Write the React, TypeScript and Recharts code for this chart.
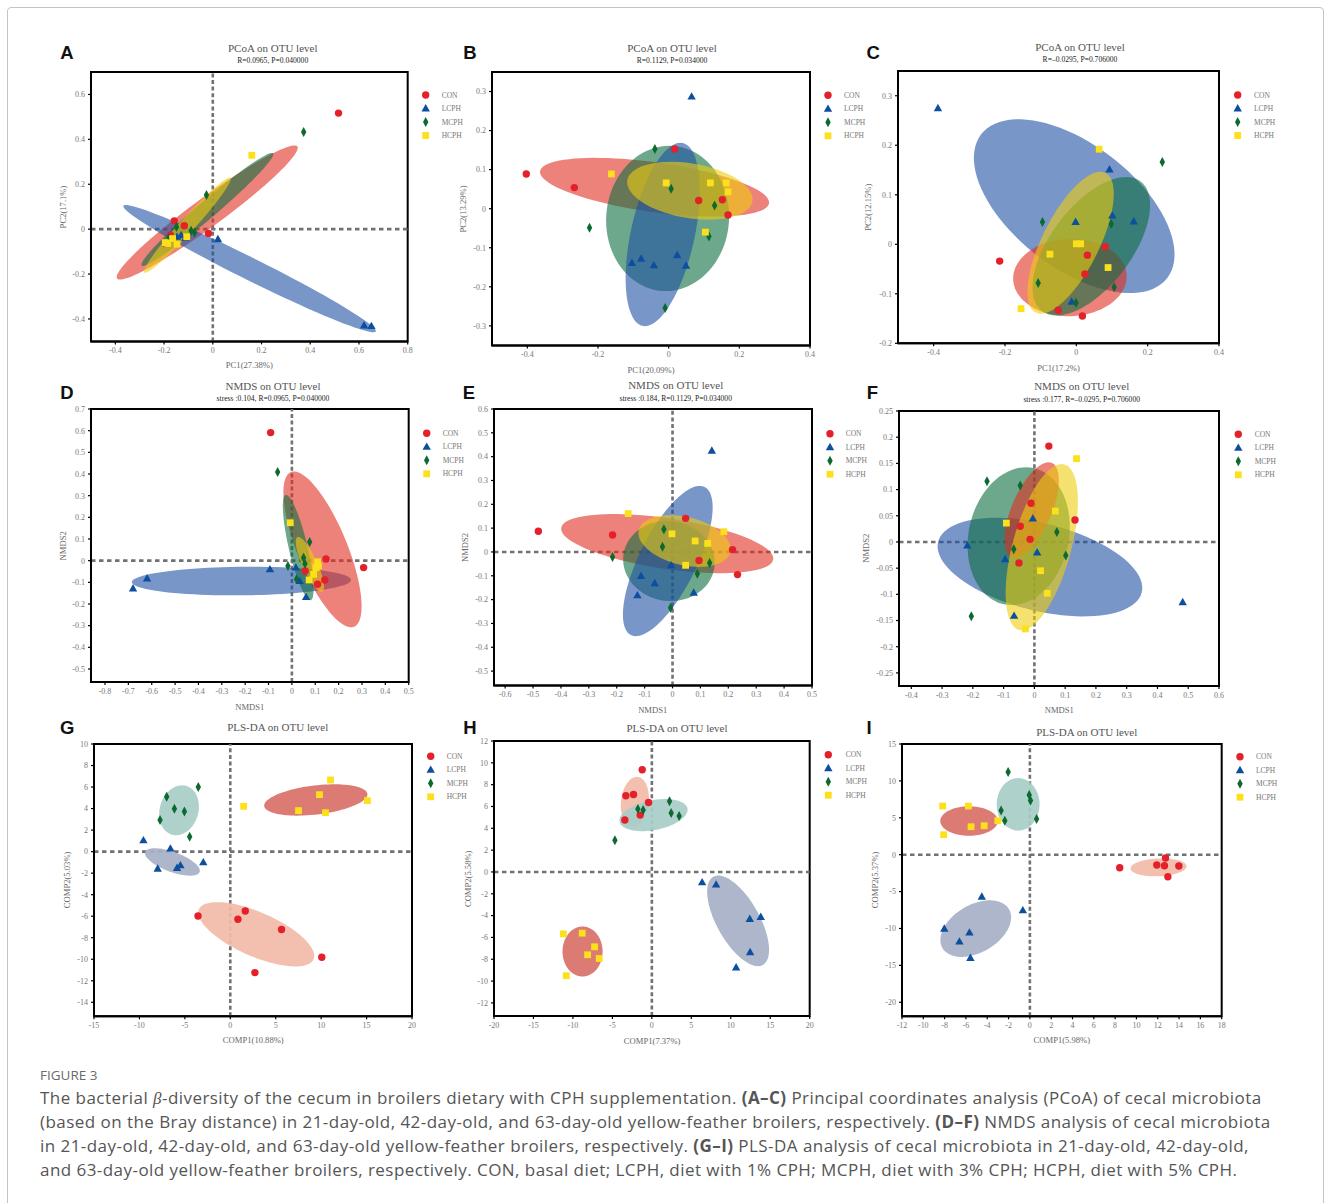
import React from "react";
import { ScatterChart, Scatter, XAxis, YAxis, ReferenceLine, ReferenceArea } from "recharts";

type Pt = [number, number];

const GROUPS = ["CON", "LCPH", "MCPH", "HCPH"];

// ---- A: PCoA day 21 ----
const A_CON: Pt[] = [[0.516, 0.517], [-0.158, 0.037], [-0.117, 0.015], [-0.018, -0.019], [-0.174, -0.027], [-0.195, -0.064]];
const A_LCPH: Pt[] = [[0.621, -0.429], [0.651, -0.432], [0.021, -0.045], [-0.13, -0.027], [-0.112, -0.039], [-0.147, -0.034]];
const A_MCPH: Pt[] = [[0.373, 0.433], [-0.026, 0.152], [-0.149, 0.01], [-0.089, -0.007], [-0.075, -0.015], [-0.18, -0.04]];
const A_HCPH: Pt[] = [[0.16, 0.329], [-0.107, -0.034], [-0.185, -0.064], [-0.165, -0.042], [-0.147, -0.067], [-0.195, -0.06]];
// ellipse = [centre, end of one semi-axis, end of the other]
const A_ELL_CON: Pt[] = [[-0.023, 0.074], [0.347, 0.368], [0.012, 0.021]];
const A_ELL_LCPH: Pt[] = [[0.151, -0.176], [0.669, -0.456], [0.13, -0.22]];
const A_ELL_MCPH: Pt[] = [[-0.022, 0.088], [0.248, 0.338], [0.002, 0.058]];
const A_ELL_HCPH: Pt[] = [[-0.104, 0.018], [0.073, 0.229], [-0.082, -0.004]];

// ---- B: PCoA day 42 ----
const B_CON: Pt[] = [[-0.403, 0.089], [-0.267, 0.054], [0.017, 0.153], [0.085, 0.021], [0.152, 0.023], [0.168, -0.016]];
const B_LCPH: Pt[] = [[0.065, 0.287], [-0.104, -0.139], [-0.078, -0.128], [-0.042, -0.145], [0.024, -0.119], [0.049, -0.146]];
const B_MCPH: Pt[] = [[-0.039, 0.153], [0.007, 0.051], [0.13, 0.008], [-0.224, -0.049], [0.114, -0.071], [-0.01, -0.254]];
const B_HCPH: Pt[] = [[-0.162, 0.089], [-0.007, 0.066], [0.118, 0.066], [0.163, 0.066], [0.168, 0.043], [0.104, -0.06]];
const B_ELL_CON: Pt[] = [[-0.04, 0.055], [0.284, 0.014], [-0.05, -0.008]];
const B_ELL_LCPH: Pt[] = [[-0.017, -0.066], [0.04, 0.168], [0.071, -0.084]];
const B_ELL_MCPH: Pt[] = [[-0.003, -0.025], [0.002, 0.161], [0.171, -0.025]];
const B_ELL_HCPH: Pt[] = [[0.06, 0.046], [0.237, 0.019], [0.047, -0.023]];

// ---- C: PCoA day 63 ----
const C_CON: Pt[] = [[-0.215, -0.034], [0.031, -0.022], [0.081, -0.005], [0.024, -0.06], [-0.051, -0.133], [0.017, -0.145]];
const C_LCPH: Pt[] = [[-0.388, 0.275], [0.093, 0.151], [-0.002, 0.045], [0.101, 0.058], [0.161, 0.046], [-0.013, -0.116]];
const C_MCPH: Pt[] = [[0.241, 0.166], [-0.095, 0.045], [0.098, 0.041], [-0.107, -0.078], [0.106, -0.087], [-0.001, -0.118]];
const C_HCPH: Pt[] = [[0.064, 0.192], [0.0, 0.001], [0.012, 0.001], [-0.074, -0.02], [0.089, -0.047], [-0.155, -0.13]];
const C_ELL_CON: Pt[] = [[-0.018, -0.067], [0.141, -0.061], [-0.01, -0.145]];
const C_ELL_LCPH: Pt[] = [[-0.006, 0.077], [0.255, -0.068], [0.099, 0.176]];
const C_ELL_MCPH: Pt[] = [[0.042, -0.004], [0.18, 0.127], [0.132, -0.053]];
const C_ELL_HCPH: Pt[] = [[-0.016, 0.003], [0.082, 0.144], [0.055, -0.023]];

// ---- D: NMDS day 21 ----
const D_CON: Pt[] = [[-0.091, 0.591], [0.146, 0.008], [0.307, -0.032], [0.057, -0.048], [0.141, -0.089], [0.11, -0.109]];
const D_LCPH: Pt[] = [[-0.68, -0.128], [-0.62, -0.082], [-0.094, -0.04], [0.017, -0.032], [0.033, -0.094], [0.061, -0.168]];
const D_MCPH: Pt[] = [[-0.061, 0.409], [0.076, 0.086], [0.05, 0.014], [0.056, -0.014], [-0.017, -0.025], [0.02, -0.086]];
const D_HCPH: Pt[] = [[-0.007, 0.175], [0.11, -0.005], [0.103, -0.032], [0.093, -0.063], [0.074, -0.089], [0.114, -0.025]];
const D_ELL_CON: Pt[] = [[0.131, 0.052], [-0.004, 0.409], [0.23, 0.095]];
const D_ELL_LCPH: Pt[] = [[-0.216, -0.094], [0.253, -0.089], [-0.216, -0.16]];
const D_ELL_MCPH: Pt[] = [[0.027, 0.06], [-0.026, 0.303], [0.066, 0.069]];
const D_ELL_HCPH: Pt[] = [[0.077, -0.017], [0.024, 0.109], [0.106, -0.003]];

// ---- E: NMDS day 42 ----
const E_CON: Pt[] = [[-0.481, 0.087], [-0.215, 0.071], [0.047, 0.141], [0.215, 0.01], [0.095, -0.036], [0.233, -0.095]];
const E_LCPH: Pt[] = [[0.141, 0.425], [-0.005, -0.056], [-0.113, -0.101], [-0.064, -0.131], [-0.126, -0.182], [0.076, -0.171]];
const E_MCPH: Pt[] = [[-0.215, -0.021], [-0.031, 0.095], [-0.036, 0.022], [0.133, -0.046], [0.089, -0.091], [-0.007, -0.234]];
const E_HCPH: Pt[] = [[-0.159, 0.161], [-0.002, 0.076], [0.184, 0.085], [0.081, 0.046], [0.126, 0.036], [0.047, -0.056]];
const E_ELL_CON: Pt[] = [[-0.019, 0.035], [0.361, -0.031], [-0.032, -0.07]];
const E_ELL_LCPH: Pt[] = [[-0.017, -0.038], [0.115, 0.273], [0.075, -0.091]];
const E_ELL_MCPH: Pt[] = [[-0.013, -0.038], [0.151, -0.045], [-0.013, 0.13]];
const E_ELL_HCPH: Pt[] = [[0.043, 0.046], [0.208, 0.018], [0.034, 0.151]];

// ---- F: NMDS day 63 ----
const F_CON: Pt[] = [[0.047, 0.183], [-0.011, 0.074], [0.132, 0.042], [-0.046, 0.03], [-0.014, 0.005], [-0.05, -0.04]];
const F_LCPH: Pt[] = [[0.482, -0.115], [-0.005, 0.045], [-0.218, -0.007], [-0.095, -0.033], [0.009, -0.02], [-0.066, -0.141]];
const F_MCPH: Pt[] = [[-0.154, 0.116], [-0.046, 0.108], [0.073, 0.019], [-0.067, -0.014], [0.102, -0.026], [-0.205, -0.142]];
const F_HCPH: Pt[] = [[0.137, 0.159], [0.068, 0.059], [-0.091, 0.036], [0.02, -0.055], [0.042, -0.098], [-0.029, -0.166]];
const F_ELL_CON: Pt[] = [[-0.009, 0.061], [0.056, 0.151], [0.051, 0.047]];
const F_ELL_LCPH: Pt[] = [[0.018, -0.048], [0.349, -0.096], [-0.015, -0.129]];
const F_ELL_MCPH: Pt[] = [[-0.051, 0.011], [-0.003, 0.141], [0.108, -0.009]];
const F_ELL_HCPH: Pt[] = [[0.024, -0.01], [0.097, 0.148], [0.116, -0.024]];

// ---- G: PLS-DA day 21 ----
const G_CON: Pt[] = [[-3.55, -5.98], [1.65, -5.51], [0.84, -6.28], [5.64, -7.24], [10.07, -9.81], [2.71, -11.24]];
const G_LCPH: Pt[] = [[-9.56, 1.05], [-6.59, 0.28], [-2.97, -0.99], [-7.99, -1.58], [-5.86, -1.52], [-5.49, -1.27]];
const G_MCPH: Pt[] = [[-3.52, 6.01], [-7.0, 5.11], [-6.15, 3.99], [-5.05, 3.72], [-7.73, 2.94], [-4.47, 1.39]];
const G_HCPH: Pt[] = [[11.03, 6.66], [9.82, 5.29], [15.09, 4.74], [1.47, 4.21], [7.51, 3.81], [10.48, 3.62]];
const G_ELL_CON: Pt[] = [[2.86, -7.68], [9.16, -10.02], [1.83, -9.54]];
const G_ELL_LCPH: Pt[] = [[-6.37, -0.96], [-3.37, -1.89], [-6.74, -1.83]];
const G_ELL_MCPH: Pt[] = [[-5.64, 3.84], [-5.31, 6.16], [-3.48, 3.84]];
const G_ELL_HCPH: Pt[] = [[9.41, 4.8], [15.09, 5.32], [9.41, 3.44]];

// ---- H: PLS-DA day 42 ----
const H_CON: Pt[] = [[-1.22, 9.36], [-3.29, 6.98], [-2.32, 7.1], [-0.42, 6.37], [-3.42, 4.76], [-1.48, 5.21]];
const H_LCPH: Pt[] = [[6.37, -0.95], [8.14, -1.16], [12.41, -4.3], [13.8, -4.12], [12.45, -7.35], [10.68, -8.75]];
const H_MCPH: Pt[] = [[2.24, 6.49], [2.45, 5.4], [3.46, 5.12], [-1.77, 5.76], [-1.1, 5.67], [-4.68, 2.9]];
const H_HCPH: Pt[] = [[-11.22, -5.67], [-8.82, -5.61], [-7.26, -6.86], [-8.14, -7.59], [-6.67, -7.93], [-10.84, -9.51]];
const H_ELL_CON: Pt[] = [[-2.15, 6.43], [-1.94, 8.72], [-0.38, 6.49]];
const H_ELL_LCPH: Pt[] = [[10.93, -4.48], [14.09, -8.51], [13.25, -3.48]];
const H_ELL_MCPH: Pt[] = [[0.21, 5.21], [4.51, 5.82], [0.59, 3.87]];
const H_ELL_HCPH: Pt[] = [[-8.78, -7.29], [-8.78, -5.0], [-6.24, -7.29]];

// ---- I: PLS-DA day 63 ----
const I_CON: Pt[] = [[8.43, -1.76], [11.91, -1.4], [12.73, -0.45], [12.63, -1.49], [13.98, -1.53], [12.95, -2.98]];
const I_LCPH: Pt[] = [[-4.51, -5.69], [-0.66, -7.54], [-8.03, -10.02], [-5.67, -10.56], [-6.61, -11.78], [-5.58, -14.0]];
const I_MCPH: Pt[] = [[-2.04, 11.2], [-0.06, 8.08], [0.06, 7.36], [-2.7, 6.0], [-2.35, 4.61], [0.63, 4.83]];
const I_HCPH: Pt[] = [[-8.18, 6.59], [-5.77, 6.59], [-8.09, 2.71], [-5.52, 3.79], [-4.29, 3.93], [-3.01, 4.61]];
const I_ELL_CON: Pt[] = [[12.07, -1.72], [14.7, -1.58], [12.07, -2.93]];
const I_ELL_LCPH: Pt[] = [[-5.08, -10.02], [-1.97, -7.36], [-3.92, -12.78]];
const I_ELL_MCPH: Pt[] = [[-1.1, 6.82], [-1.1, 10.38], [0.91, 6.82]];
const I_ELL_HCPH: Pt[] = [[-5.71, 4.56], [-3.01, 4.56], [-5.71, 6.55]];

// tick labels
const TICKS_PC_A_X = [-0.4, -0.2, 0, 0.2, 0.4, 0.6, 0.8];
const TICKS_PC_A_Y = [-0.4, -0.2, 0, 0.2, 0.4, 0.6];
const TICKS_PC_BC_X = [-0.4, -0.2, 0, 0.2, 0.4];
const TICKS_PC_B_Y = [-0.3, -0.2, -0.1, 0, 0.1, 0.2, 0.3];
const TICKS_PC_C_Y = [-0.2, -0.1, 0, 0.1, 0.2, 0.3];
const TICKS_NM_D_X = [-0.8, -0.7, -0.6, -0.5, -0.4, -0.3, -0.2, -0.1, 0, 0.1, 0.2, 0.3, 0.4, 0.5];
const TICKS_NM_D_Y = [-0.5, -0.4, -0.3, -0.2, -0.1, 0, 0.1, 0.2, 0.3, 0.4, 0.5, 0.6, 0.7];
const TICKS_NM_E_X = [-0.6, -0.5, -0.4, -0.3, -0.2, -0.1, 0, 0.1, 0.2, 0.3, 0.4, 0.5];
const TICKS_NM_E_Y = [-0.5, -0.4, -0.3, -0.2, -0.1, 0, 0.1, 0.2, 0.3, 0.4, 0.5, 0.6];
const TICKS_NM_F_X = [-0.4, -0.3, -0.2, -0.1, 0, 0.1, 0.2, 0.3, 0.4, 0.5, 0.6];
const TICKS_NM_F_Y = [-0.25, -0.2, -0.15, -0.1, -0.05, 0, 0.05, 0.1, 0.15, 0.2, 0.25];
const TICKS_PLS_G_X = [-15, -10, -5, 0, 5, 10, 15, 20];
const TICKS_PLS_G_Y = [-14, -12, -10, -8, -6, -4, -2, 0, 2, 4, 6, 8, 10];
const TICKS_PLS_H_X = [-20, -15, -10, -5, 0, 5, 10, 15, 20];
const TICKS_PLS_H_Y = [-12, -10, -8, -6, -4, -2, 0, 2, 4, 6, 8, 10, 12];
const TICKS_PLS_I_X = [-12, -10, -8, -6, -4, -2, 0, 2, 4, 6, 8, 10, 12, 14, 16, 18];
const TICKS_PLS_I_Y = [-20, -15, -10, -5, 0, 5, 10, 15];

const MARK_COLOR: Record<string, string> = { CON: "#e4202b", LCPH: "#0d4f9f", MCPH: "#0a6a2f", HCPH: "#fbe01b" };
const PCOA_FILL: Record<string, string> = { CON: "#df2f21", LCPH: "#1e50a3", MCPH: "#0d6e3f", HCPH: "#eecd0d" };
const PLS_FILL: Record<string, string> = { CON: "#f2bba9", LCPH: "#a6b0c6", MCPH: "#a8cdc8", HCPH: "#d96f68" };

const SERIF = "'Liberation Serif', 'Times New Roman', serif";

interface Panel {
  letter: string;
  letterAt: Pt;
  title: string;
  titleAt: Pt;
  sub?: string;
  subY?: number;
  xLabel: string;
  yLabel: string;
  frame: [number, number, number, number];
  xDomain: Pt;
  yDomain: Pt;
  xTicks: number[];
  yTicks: number[];
  zero: boolean;
  kind: "ell" | "pls";
  points: Record<string, Pt[]>;
  shapes: [string, Pt[]][];
  legend: [number, number, number];
  xLabelY: number;
  yLabelX: number;
}

const PANELS: Panel[] = [
  {
    letter: "A", letterAt: [67, 52], title: "PCoA on OTU level", titleAt: [272.7, 48], sub: "R=0.0965, P=0.040000", subY: 60.7,
    xLabel: "PC1(27.38%)", yLabel: "PC2(17.1%)", frame: [91, 72.3, 407.7, 341.7],
    xDomain: [-0.5, 0.8], yDomain: [-0.5, 0.7], xTicks: TICKS_PC_A_X, yTicks: TICKS_PC_A_Y, zero: true, kind: "ell",
    points: { CON: A_CON, LCPH: A_LCPH, MCPH: A_MCPH, HCPH: A_HCPH },
    shapes: [["CON", A_ELL_CON], ["LCPH", A_ELL_LCPH], ["MCPH", A_ELL_MCPH], ["HCPH", A_ELL_HCPH]],
    legend: [425.7, 441.7, 95], xLabelY: 365, yLabelX: 63,
  },
  {
    letter: "B", letterAt: [470, 52], title: "PCoA on OTU level", titleAt: [672, 47.7], sub: "R=0.1129, P=0.034000", subY: 60,
    xLabel: "PC1(20.09%)", yLabel: "PC2(13.29%)", frame: [492, 72.3, 810, 345.7],
    xDomain: [-0.5, 0.4], yDomain: [-0.35, 0.35], xTicks: TICKS_PC_BC_X, yTicks: TICKS_PC_B_Y, zero: false, kind: "ell",
    points: { CON: B_CON, LCPH: B_LCPH, MCPH: B_MCPH, HCPH: B_HCPH },
    shapes: [["CON", B_ELL_CON], ["MCPH", B_ELL_MCPH], ["LCPH", B_ELL_LCPH], ["HCPH", B_ELL_HCPH]],
    legend: [828, 844, 95.3], xLabelY: 370, yLabelX: 463,
  },
  {
    letter: "C", letterAt: [873.3, 52], title: "PCoA on OTU level", titleAt: [1080, 47], sub: "R=\u20130.0295, P=0.706000", subY: 59.7,
    xLabel: "PC1(17.2%)", yLabel: "PC2(12.15%)", frame: [898, 71, 1219, 343.3],
    xDomain: [-0.5, 0.4], yDomain: [-0.2, 0.35], xTicks: TICKS_PC_BC_X, yTicks: TICKS_PC_C_Y, zero: false, kind: "ell",
    points: { CON: C_CON, LCPH: C_LCPH, MCPH: C_MCPH, HCPH: C_HCPH },
    shapes: [["LCPH", C_ELL_LCPH], ["CON", C_ELL_CON], ["MCPH", C_ELL_MCPH], ["HCPH", C_ELL_HCPH]],
    legend: [1237.7, 1254, 95], xLabelY: 367.7, yLabelX: 868,
  },
  {
    letter: "D", letterAt: [67, 392], title: "NMDS on OTU level", titleAt: [273, 385.7], sub: "stress :0.104, R=0.0965, P=0.040000", subY: 398.3,
    xLabel: "NMDS1", yLabel: "NMDS2", frame: [91, 409.3, 408.7, 682.3],
    xDomain: [-0.86, 0.5], yDomain: [-0.56, 0.7], xTicks: TICKS_NM_D_X, yTicks: TICKS_NM_D_Y, zero: true, kind: "ell",
    points: { CON: D_CON, LCPH: D_LCPH, MCPH: D_MCPH, HCPH: D_HCPH },
    shapes: [["LCPH", D_ELL_LCPH], ["CON", D_ELL_CON], ["MCPH", D_ELL_MCPH], ["HCPH", D_ELL_HCPH]],
    legend: [426.7, 442.7, 433.3], xLabelY: 707.3, yLabelX: 63,
  },
  {
    letter: "E", letterAt: [469, 392], title: "NMDS on OTU level", titleAt: [675.7, 385.3], sub: "stress :0.184, R=0.1129, P=0.034000", subY: 398.3,
    xLabel: "NMDS1", yLabel: "NMDS2", frame: [493.7, 409.3, 811.7, 685.7],
    xDomain: [-0.64, 0.5], yDomain: [-0.56, 0.6], xTicks: TICKS_NM_E_X, yTicks: TICKS_NM_E_Y, zero: true, kind: "ell",
    points: { CON: E_CON, LCPH: E_LCPH, MCPH: E_MCPH, HCPH: E_HCPH },
    shapes: [["CON", E_ELL_CON], ["MCPH", E_ELL_MCPH], ["LCPH", E_ELL_LCPH], ["HCPH", E_ELL_HCPH]],
    legend: [830, 845.7, 433.7], xLabelY: 710, yLabelX: 465,
  },
  {
    letter: "F", letterAt: [872.3, 392], title: "NMDS on OTU level", titleAt: [1081.7, 386], sub: "stress :0.177, R=\u20130.0295, P=0.706000", subY: 399,
    xLabel: "NMDS1", yLabel: "NMDS2", frame: [899.3, 410.7, 1219.3, 685.7],
    xDomain: [-0.44, 0.6], yDomain: [-0.275, 0.25], xTicks: TICKS_NM_F_X, yTicks: TICKS_NM_F_Y, zero: true, kind: "ell",
    points: { CON: F_CON, LCPH: F_LCPH, MCPH: F_MCPH, HCPH: F_HCPH },
    shapes: [["LCPH", F_ELL_LCPH], ["MCPH", F_ELL_MCPH], ["CON", F_ELL_CON], ["HCPH", F_ELL_HCPH]],
    legend: [1238.3, 1254.7, 434.3], xLabelY: 710, yLabelX: 866,
  },
  {
    letter: "G", letterAt: [67.3, 727], title: "PLS-DA on OTU level", titleAt: [277.7, 727],
    xLabel: "COMP1(10.88%)", yLabel: "COMP2(5.03%)", frame: [94.3, 743.7, 412.3, 1016],
    xDomain: [-15, 20], yDomain: [-15.3, 10], xTicks: TICKS_PLS_G_X, yTicks: TICKS_PLS_G_Y, zero: true, kind: "pls",
    points: { CON: G_CON, LCPH: G_LCPH, MCPH: G_MCPH, HCPH: G_HCPH },
    shapes: [["CON", G_ELL_CON], ["LCPH", G_ELL_LCPH], ["MCPH", G_ELL_MCPH], ["HCPH", G_ELL_HCPH]],
    legend: [430.7, 446.7, 756.3], xLabelY: 1039.7, yLabelX: 67,
  },
  {
    letter: "H", letterAt: [470, 727], title: "PLS-DA on OTU level", titleAt: [677, 727.7],
    xLabel: "COMP1(7.37%)", yLabel: "COMP2(5.58%)", frame: [494.3, 741.3, 810, 1016.3],
    xDomain: [-20, 20], yDomain: [-13.2, 12], xTicks: TICKS_PLS_H_X, yTicks: TICKS_PLS_H_Y, zero: true, kind: "pls",
    points: { CON: H_CON, LCPH: H_LCPH, MCPH: H_MCPH, HCPH: H_HCPH },
    shapes: [["CON", H_ELL_CON], ["MCPH", H_ELL_MCPH], ["LCPH", H_ELL_LCPH], ["HCPH", H_ELL_HCPH]],
    legend: [828.3, 845.7, 754.7], xLabelY: 1041.3, yLabelX: 468,
  },
  {
    letter: "I", letterAt: [869, 727], title: "PLS-DA on OTU level", titleAt: [1086.7, 732],
    xLabel: "COMP1(5.98%)", yLabel: "COMP2(5.37%)", frame: [902, 743.7, 1221.7, 1016],
    xDomain: [-12, 18], yDomain: [-21.9, 15], xTicks: TICKS_PLS_I_X, yTicks: TICKS_PLS_I_Y, zero: true, kind: "pls",
    points: { CON: I_CON, LCPH: I_LCPH, MCPH: I_MCPH, HCPH: I_HCPH },
    shapes: [["CON", I_ELL_CON], ["LCPH", I_ELL_LCPH], ["MCPH", I_ELL_MCPH], ["HCPH", I_ELL_HCPH]],
    legend: [1240, 1256, 756.7], xLabelY: 1040.3, yLabelX: 875,
  },
];

const toXY = (arr: Pt[]) => arr.map(([x, y]) => ({ x, y }));

function Marker({ kind, cx, cy }: { kind: string; cx: number; cy: number }) {
  const c = MARK_COLOR[kind];
  if (kind === "CON") return <circle cx={cx} cy={cy} r={3.7} fill={c} />;
  if (kind === "LCPH")
    return <polygon points={`${cx},${cy - 4.4} ${cx + 4.2},${cy + 3} ${cx - 4.2},${cy + 3}`} fill={c} />;
  if (kind === "MCPH")
    return <polygon points={`${cx},${cy - 5} ${cx + 2.7},${cy} ${cx},${cy + 5} ${cx - 2.7},${cy}`} fill={c} />;
  return <rect x={cx - 3.4} y={cy - 3.4} width={6.8} height={6.8} fill={c} />;
}

// closed ellipse through the three mapped points (centre + two conjugate semi-axes)
const ellipseLine = (fill: string, opacity: number) => (p: any) => {
  const pts = p && p.points;
  if (!pts || pts.length < 3) return <g />;
  const [c, a, b] = pts;
  const ux = a.x - c.x, uy = a.y - c.y, vx = b.x - c.x, vy = b.y - c.y;
  let d = "";
  for (let i = 0; i <= 90; i++) {
    const t = (i / 90) * Math.PI * 2;
    const x = c.x + ux * Math.cos(t) + vx * Math.sin(t);
    const y = c.y + uy * Math.cos(t) + vy * Math.sin(t);
    d += (i ? "L" : "M") + x.toFixed(2) + "," + y.toFixed(2);
  }
  return <path d={d + "Z"} fill={fill} fillOpacity={opacity} stroke="none" />;
};

const tickStyle = { fontSize: 8, fill: "#777", fontFamily: SERIF };

function PanelChart({ p }: { p: Panel }) {
  const [l, t, r, b] = p.frame;
  const w = r - l + 50;
  const h = b - t + 70;
  return (
    <div style={{ position: "absolute", left: l - 40, top: t - 40 }}>
      <ScatterChart width={w} height={h} margin={{ top: 40, right: 10, bottom: 0, left: 0 }}>
        <XAxis
          type="number" dataKey="x" domain={p.xDomain} ticks={p.xTicks} allowDataOverflow interval={0}
          height={30} tick={tickStyle} tickSize={3} tickMargin={3}
          axisLine={{ stroke: "#000", strokeWidth: 2 }} tickLine={{ stroke: "#000", strokeWidth: 1.2 }}
        />
        <YAxis
          type="number" dataKey="y" domain={p.yDomain} ticks={p.yTicks} allowDataOverflow interval={0}
          width={40} tick={tickStyle} tickSize={3} tickMargin={3}
          axisLine={{ stroke: "#000", strokeWidth: 2 }} tickLine={{ stroke: "#000", strokeWidth: 1.2 }}
        />
        {p.shapes.map(([g, pts]) => (
          <Scatter
            key={"s" + g}
            data={toXY(pts)}
            isAnimationActive={false}
            lineType="joint"
            line={ellipseLine(p.kind === "ell" ? PCOA_FILL[g] : PLS_FILL[g], p.kind === "ell" ? 0.6 : 0.92)}
            shape={() => <g />}
          />
        ))}
        {p.zero && <ReferenceLine x={0} stroke="#727272" strokeWidth={2.6} strokeDasharray="4 2.6" />}
        {p.zero && <ReferenceLine y={0} stroke="#727272" strokeWidth={2.6} strokeDasharray="4.5 3.5" />}
        <ReferenceArea
          x1={p.xDomain[0]} x2={p.xDomain[1]} y1={p.yDomain[0]} y2={p.yDomain[1]}
          fill="none" fillOpacity={0} stroke="#000" strokeWidth={2}
        />
        {GROUPS.map((g) => (
          <Scatter
            key={g}
            name={g}
            data={toXY(p.points[g])}
            isAnimationActive={false}
            shape={(sp: any) => <Marker kind={g} cx={sp.cx} cy={sp.cy} />}
          />
        ))}
      </ScatterChart>
    </div>
  );
}

function PanelText({ p }: { p: Panel }) {
  const [l, t, r, b] = p.frame;
  const [mx, tx, y0] = p.legend;
  return (
    <g>
      <text x={p.letterAt[0]} y={p.letterAt[1]} textAnchor="middle" dominantBaseline="central"
        fontFamily="'Liberation Sans', Arial, sans-serif" fontWeight="bold" fontSize={18.5} fill="#111">{p.letter}</text>
      <text x={p.titleAt[0]} y={p.titleAt[1]} textAnchor="middle" dominantBaseline="central"
        fontFamily={SERIF} fontSize={11} fill="#555">{p.title}</text>
      {p.sub && (
        <text x={p.titleAt[0]} y={p.subY} textAnchor="middle" dominantBaseline="central"
          fontFamily={SERIF} fontSize={7.6} fill="#222">{p.sub}</text>
      )}
      <text x={(l + r) / 2} y={p.xLabelY} textAnchor="middle" dominantBaseline="central"
        fontFamily={SERIF} fontSize={8.6} fill="#666">{p.xLabel}</text>
      <text x={p.yLabelX} y={(t + b) / 2} textAnchor="middle" dominantBaseline="central"
        transform={`rotate(-90 ${p.yLabelX} ${(t + b) / 2})`}
        fontFamily={SERIF} fontSize={8.6} fill="#666">{p.yLabel}</text>
      {GROUPS.map((g, i) => (
        <g key={g}>
          <Marker kind={g} cx={mx} cy={y0 + i * 13.5} />
          <text x={tx} y={y0 + i * 13.5} dominantBaseline="central" fontFamily={SERIF} fontSize={7.5} fill="#777">{g}</text>
        </g>
      ))}
    </g>
  );
}

const CAPTION = [
  <>The bacterial <i style={{ fontFamily: SERIF }}>β</i>-diversity of the cecum in broilers dietary with CPH supplementation. <b>(A–C)</b> Principal coordinates analysis (PCoA) of cecal microbiota</>,
  <>(based on the Bray distance) in 21-day-old, 42-day-old, and 63-day-old yellow-feather broilers, respectively. <b>(D–F)</b> NMDS analysis of cecal microbiota</>,
  <>in 21-day-old, 42-day-old, and 63-day-old yellow-feather broilers, respectively. <b>(G–I)</b> PLS-DA analysis of cecal microbiota in 21-day-old, 42-day-old,</>,
  <>and 63-day-old yellow-feather broilers, respectively. CON, basal diet; LCPH, diet with 1% CPH; MCPH, diet with 3% CPH; HCPH, diet with 5% CPH.</>,
];

export default function App() {
  return (
    <div style={{ position: "absolute", left: 0, top: 0, width: 1330, height: 1203, background: "#fff", overflow: "hidden" }}>
      <div style={{ position: "absolute", left: 7, top: 7, width: 1315, height: 1260, border: "1px solid #c4c4c4", borderRadius: 4 }} />
      {PANELS.map((p) => (
        <PanelChart key={p.letter} p={p} />
      ))}
      <svg width={1330} height={1203} style={{ position: "absolute", left: 0, top: 0, pointerEvents: "none" }}>
        {PANELS.map((p) => (
          <PanelText key={p.letter} p={p} />
        ))}
      </svg>
      <div style={{ position: "absolute", left: 40, top: 1066, fontFamily: "'Open Sans', sans-serif", fontSize: 13.5, color: "#6a6a6a" }}>FIGURE 3</div>
      {CAPTION.map((line, i) => (
        <div key={i} style={{
          position: "absolute", left: 40, top: 1086 + i * 24, whiteSpace: "nowrap",
          fontFamily: "'Open Sans', sans-serif", fontSize: 17, letterSpacing: "0.45px", color: "#555", lineHeight: "24px",
        }}>{line}</div>
      ))}
    </div>
  );
}
